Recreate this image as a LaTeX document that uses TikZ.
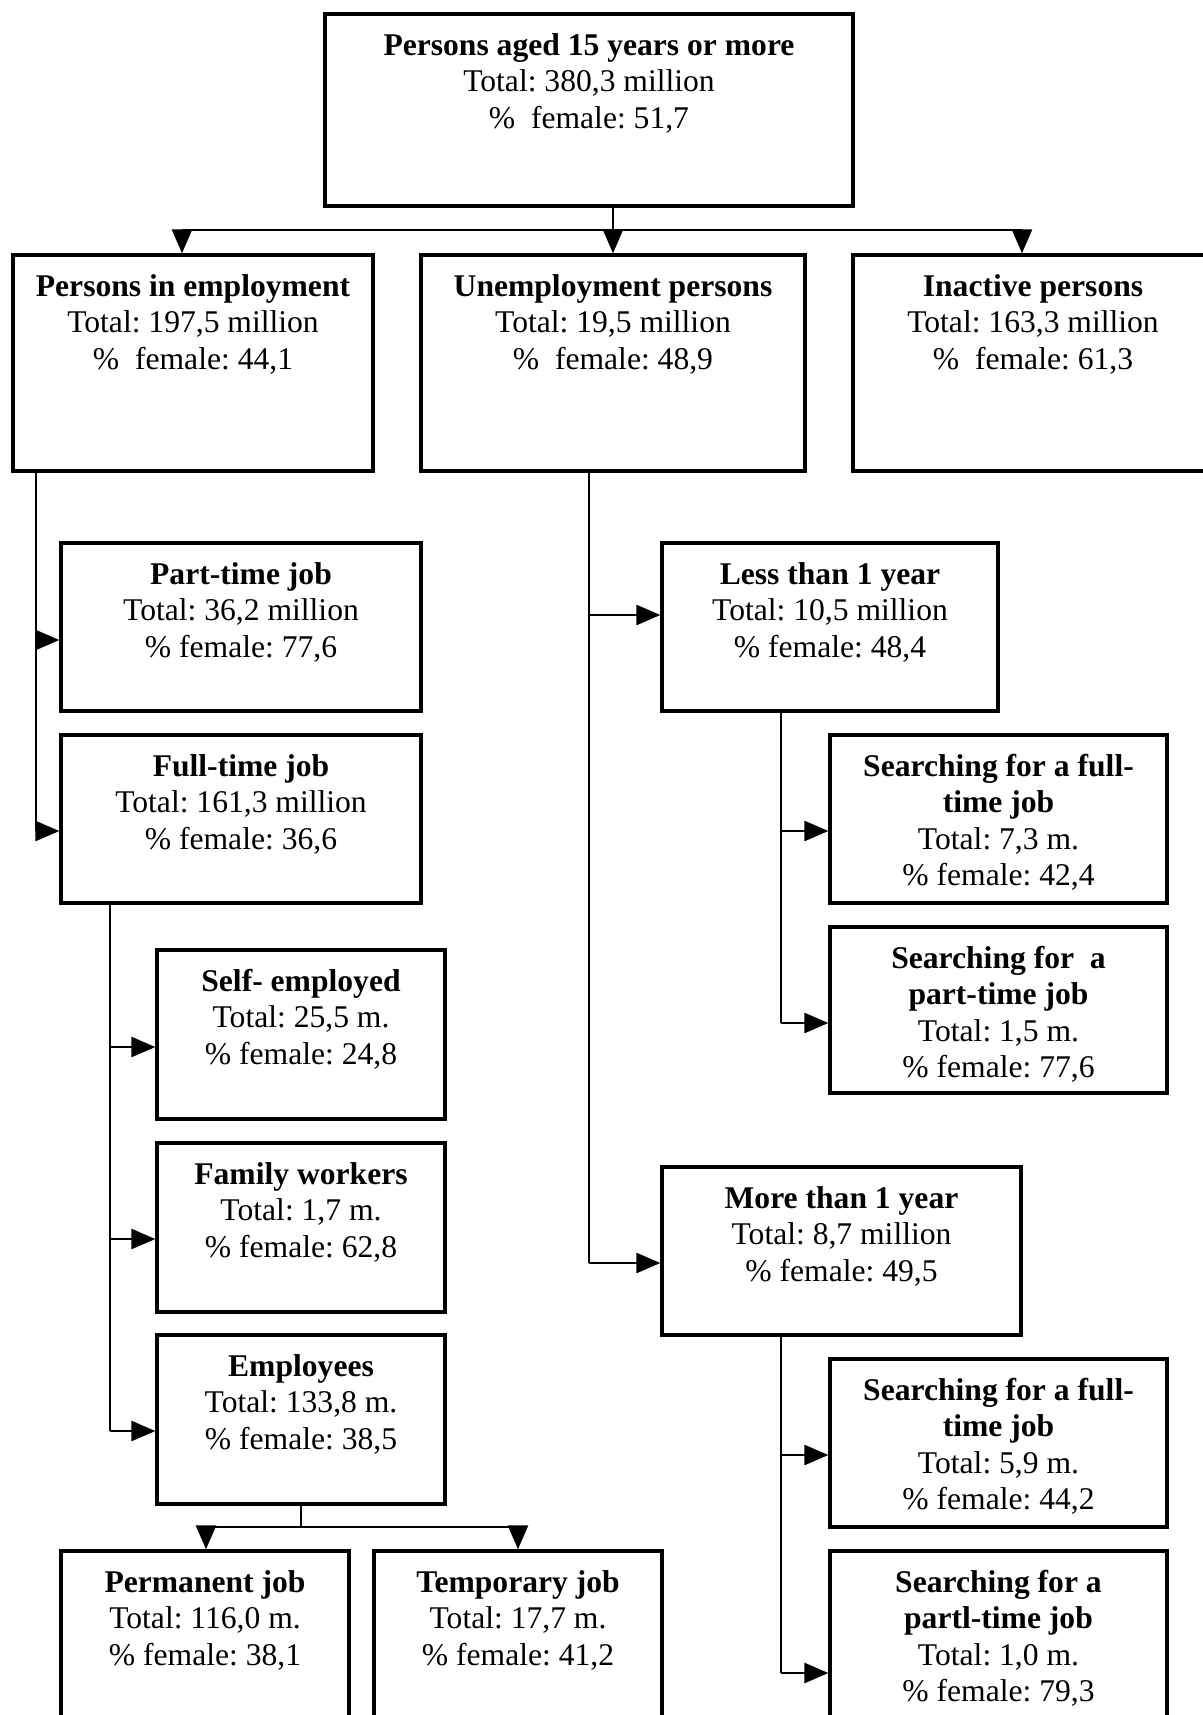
\documentclass[tikz,border=0pt]{standalone}
\usepackage{fontspec}
\setmainfont{Liberation Serif}
\usetikzlibrary{arrows.meta,fit}
\frenchspacing
\begin{document}
\begin{tikzpicture}[x=0.5pt,y=-0.5pt,
  box/.style={draw=black,line width=1.6pt,inner sep=0pt,rectangle},
  txt/.style={anchor=north,align=center,inner sep=0pt,font=\frenchspacing\fontsize{15.8}{18.2}\selectfont},
  conn/.style={draw=black,line width=1.25pt},
  arr/.style={draw=black,line width=1.25pt,-{Triangle[length=12pt,width=10pt]}}]
\useasboundingbox (0,0) rectangle (1203,1715);
\clip (0,0) rectangle (1203,1715);
\newcommand\fl{\rule{0pt}{12pt}}
% boxes
\node[box,fit={(325,14) (853,206)}] (top) {};
\node[box,fit={(13,255) (373,471)}] (emp) {};
\node[box,fit={(421,255) (805,471)}] (unemp) {};
\node[box,fit={(853,255) (1213,471)}] (inact) {};
\node[box,fit={(61,543) (421,711)}] (pt) {};
\node[box,fit={(61,735) (421,903)}] (ft) {};
\node[box,fit={(157,950) (445,1119)}] (self) {};
\node[box,fit={(157,1143) (445,1312)}] (fam) {};
\node[box,fit={(157,1335) (445,1504)}] (empl) {};
\node[box,fit={(61,1551) (349,1780)}] (perm) {};
\node[box,fit={(374,1551) (662,1780)}] (temp) {};
\node[box,fit={(662,543) (998,711)}] (less) {};
\node[box,fit={(830,735) (1167,903)}] (sfa) {};
\node[box,fit={(830,927) (1167,1093)}] (spa) {};
\node[box,fit={(662,1167) (1021,1335)}] (more) {};
\node[box,fit={(830,1359) (1167,1527)}] (sfb) {};
\node[box,fit={(830,1551) (1167,1780)}] (spb) {};
% texts
\node[txt] (topT) at ([yshift=-9.2pt]top.north) {\fl\textbf{Persons aged 15 years or more}\\Total: 380,3 million\\\%\ \ female: 51,7};
\node[txt] (empT) at ([yshift=-9.2pt]emp.north) {\fl\textbf{Persons in employment}\\Total: 197,5 million\\\%\ \ female: 44,1};
\node[txt] (unempT) at ([yshift=-9.2pt]unemp.north) {\fl\textbf{Unemployment persons}\\Total: 19,5 million\\\%\ \ female: 48,9};
\node[txt] (inactT) at ([yshift=-9.2pt]inact.north) {\fl\textbf{Inactive persons}\\Total: 163,3 million\\\%\ \ female: 61,3};
\node[txt] (ptT) at ([yshift=-9.2pt]pt.north) {\fl\textbf{Part-time job}\\Total: 36,2 million\\\% female: 77,6};
\node[txt] (ftT) at ([yshift=-9.2pt]ft.north) {\fl\textbf{Full-time job}\\Total: 161,3 million\\\% female: 36,6};
\node[txt] (selfT) at ([yshift=-9.2pt]self.north) {\fl\textbf{Self- employed}\\Total: 25,5 m.\\\% female: 24,8};
\node[txt] (famT) at ([yshift=-9.2pt]fam.north) {\fl\textbf{Family workers}\\Total: 1,7 m.\\\% female: 62,8};
\node[txt] (emplT) at ([yshift=-9.2pt]empl.north) {\fl\textbf{Employees}\\Total: 133,8 m.\\\% female: 38,5};
\node[txt] (permT) at ([yshift=-9.2pt]perm.north) {\fl\textbf{Permanent job}\\Total: 116,0 m.\\\% female: 38,1};
\node[txt] (tempT) at ([yshift=-9.2pt]temp.north) {\fl\textbf{Temporary job}\\Total: 17,7 m.\\\% female: 41,2};
\node[txt] (lessT) at ([yshift=-9.2pt]less.north) {\fl\textbf{Less than 1 year}\\Total: 10,5 million\\\% female: 48,4};
\node[txt] (sfaT) at ([yshift=-9.2pt]sfa.north) {\fl\textbf{Searching for a full-}\\\textbf{time job}\\Total: 7,3 m.\\\% female: 42,4};
\node[txt] (spaT) at ([yshift=-9.2pt]spa.north) {\fl\textbf{Searching for\ \ a}\\\textbf{part-time job}\\Total: 1,5 m.\\\% female: 77,6};
\node[txt] (moreT) at ([yshift=-9.2pt]more.north) {\fl\textbf{More than 1 year}\\Total: 8,7 million\\\% female: 49,5};
\node[txt] (sfbT) at ([yshift=-9.2pt]sfb.north) {\fl\textbf{Searching for a full-}\\\textbf{time job}\\Total: 5,9 m.\\\% female: 44,2};
\node[txt] (spbT) at ([yshift=-9.2pt]spb.north) {\fl\textbf{Searching for a}\\\textbf{partl-time job}\\Total: 1,0 m.\\\% female: 79,3};
% junction coordinates
\coordinate (bL) at (182,230);
\coordinate (bM) at (613,230);
\coordinate (bR) at (1022,230);
\coordinate (e1) at (36,640);
\coordinate (e2) at (36,831);
\coordinate (f1) at (110,1047);
\coordinate (f2) at (110,1239);
\coordinate (f3) at (110,1431);
\coordinate (u1) at (589,615);
\coordinate (u2) at (589,1263);
\coordinate (l1) at (781,831);
\coordinate (l2) at (781,1023);
\coordinate (m1) at (781,1455);
\coordinate (m2) at (781,1673);
\coordinate (pL) at (206,1527);
\coordinate (pM) at (301,1527);
\coordinate (pR) at (518,1527);
% connectors top
\draw[conn] (bM |- top.south) -- (bM);
\draw[conn] (bL) -- (bR);
\draw[arr] (bL) -- (bL |- emp.north);
\draw[arr] (bM) -- (bM |- unemp.north);
\draw[arr] (bR) -- (bR |- inact.north);
% employment
\draw[conn] (e1 |- emp.south) -- (e2);
\draw[arr] (e1) -- (e1 -| pt.west);
\draw[arr] (e2) -- (e2 -| ft.west);
% full-time
\draw[conn] (f1 |- ft.south) -- (f3);
\draw[arr] (f1) -- (f1 -| self.west);
\draw[arr] (f2) -- (f2 -| fam.west);
\draw[arr] (f3) -- (f3 -| empl.west);
% employees
\draw[conn] (pM |- empl.south) -- (pM);
\draw[conn] (pL) -- (pR);
\draw[arr] (pL) -- (pL |- perm.north);
\draw[arr] (pR) -- (pR |- temp.north);
% unemployment
\draw[conn] (u1 |- unemp.south) -- (u2);
\draw[arr] (u1) -- (u1 -| less.west);
\draw[arr] (u2) -- (u2 -| more.west);
% less than 1 year
\draw[conn] (l1 |- less.south) -- (l2);
\draw[arr] (l1) -- (l1 -| sfa.west);
\draw[arr] (l2) -- (l2 -| spa.west);
% more than 1 year
\draw[conn] (m1 |- more.south) -- (m2);
\draw[arr] (m1) -- (m1 -| sfb.west);
\draw[arr] (m2) -- (m2 -| spb.west);
\end{tikzpicture}
\end{document}
